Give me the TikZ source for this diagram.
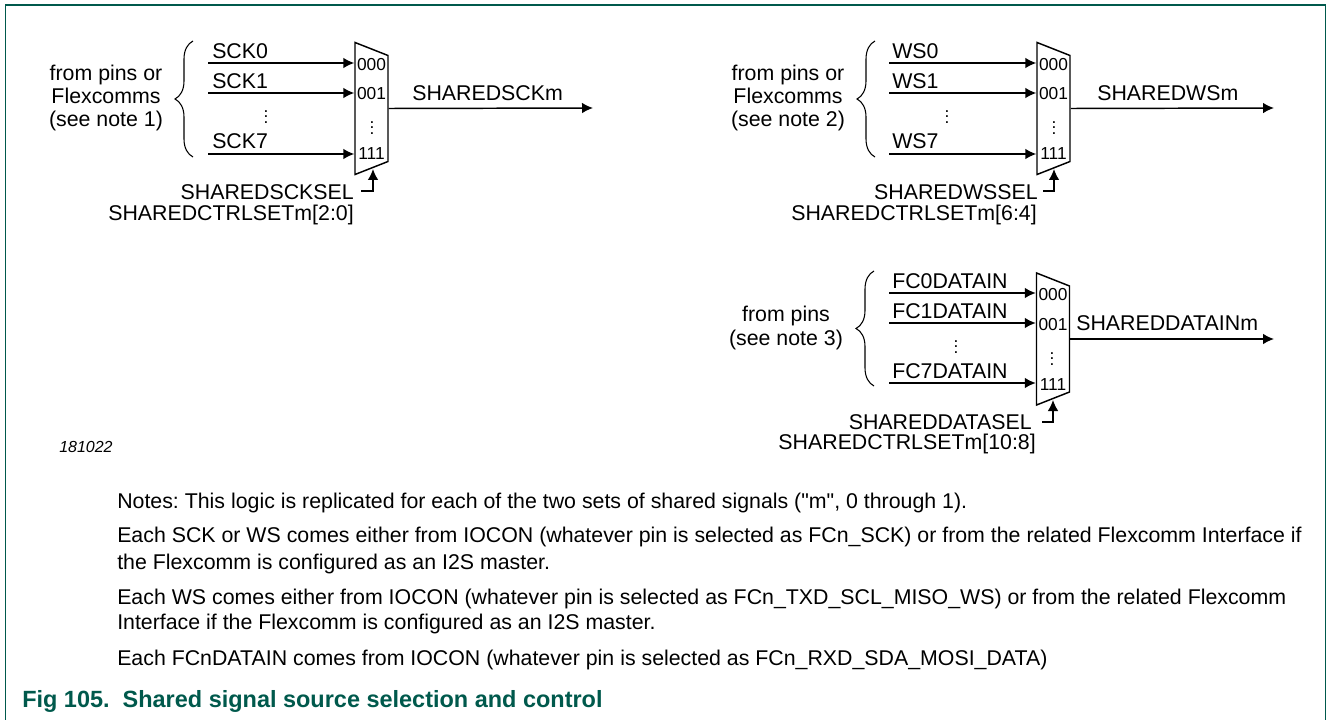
\documentclass[tikz,border=0pt]{standalone}
\usepackage{fontspec}
\setmainfont{Liberation Sans}[Ligatures=TeXOff]
\usetikzlibrary{arrows.meta, positioning, shapes.geometric, decorations.pathreplacing}
\definecolor{figgreen}{HTML}{00594C}

\begin{document}
\begin{tikzpicture}[
        x=0.75pt, y=-0.75pt,
        every node/.style={font=\fontsize{16pt}{17.6pt}\selectfont\frenchspacing, inner sep=0pt},
        mux/.style={trapezium, trapezium left angle=83, trapezium right angle=83, trapezium stretches=true, shape border rotate=270, draw, inner sep=1pt, line width=1.1pt, minimum width=99pt, minimum height=24.75pt},
        port/.style={font=\fontsize{13pt}{15pt}\selectfont},
        side/.style={align=center},
        note/.style={anchor=west},
        arrow/.style={-{Latex[length=8.25pt, width=8pt]}, line width=1.1pt},
        bracket/.style={line width=0.8pt, decorate, decoration={brace, mirror, amplitude=13.5pt}}
    ]
        \useasboundingbox (0,0) rectangle (1327,720);

        % Frame
        \coordinate (framebl) at (5.5,720);
        \coordinate (frametl) at (5.5,5);
        \coordinate (frametr) at (1325.5,5);
        \coordinate (framebr) at (1325.5,720);
        \draw[figgreen, line width=1.1pt] (framebl) -- (frametl) -- (frametr) -- (framebr);

        % Nodes: SCK selector
        \node[mux] (muxsck) at (371.5,108.5) {};
        \node[port] (sck000) at (371.5,65) {000};
        \node[port] (sck001) at (371.5,94) {001};
        \node[port] (sckdots) at (372,124) {\(\vdots\)};
        \node[port] (sck111) at (371.5,154) {111};
        \node (sck0) [anchor=west] at (212,51) {SCK0};
        \node (sck1) [anchor=west] at (212,81) {SCK1};
        \node (sck7) [anchor=west] at (212,141) {SCK7};
        \node[port] (sckgap) at (266,113) {\(\vdots\)};
        \node[side] (sckfrom) at (106,98) {from pins or\\Flexcomms\\(see note 1)};
        \node (sckout) [anchor=west] at (412,93) {SHAREDSCKm};
        \node (scksel) [anchor=east] at (354,192) {SHAREDSCKSEL};
        \node (sckreg) [anchor=east] at (354,215) {SHAREDCTRLSETm[2:0]};
        \coordinate (sckin0) at (208,63);
        \coordinate (sckin1) at (208,93);
        \coordinate (sckin7) at (208,154);
        \coordinate (sckend) at (593,108);
        \coordinate (scktop) at (193,41);
        \coordinate (sckbot) at (193,157);
        \coordinate (sckstub) at (361,191);
        \coordinate (scktap) at (373,169);

        % Nodes: WS selector
        \node[mux] (muxws) at (1053.5,108.5) {};
        \node[port] (ws000) at (1053.5,65) {000};
        \node[port] (ws001) at (1053.5,94) {001};
        \node[port] (wsdots) at (1054,124) {\(\vdots\)};
        \node[port] (ws111) at (1053.5,154) {111};
        \node (ws0) [anchor=west] at (892,51) {WS0};
        \node (ws1) [anchor=west] at (892,81) {WS1};
        \node (ws7) [anchor=west] at (892,141) {WS7};
        \node[port] (wsgap) at (947,113) {\(\vdots\)};
        \node[side] (wsfrom) at (788,98) {from pins or\\Flexcomms\\(see note 2)};
        \node (wsout) [anchor=west] at (1097,93) {SHAREDWSm};
        \node (wssel) [anchor=east] at (1038,192) {SHAREDWSSEL};
        \node (wsreg) [anchor=east] at (1037,215) {SHAREDCTRLSETm[6:4]};
        \coordinate (wsin0) at (889,63);
        \coordinate (wsin1) at (889,93);
        \coordinate (wsin7) at (889,154);
        \coordinate (wsend) at (1274,108);
        \coordinate (wstop) at (875,41);
        \coordinate (wsbot) at (875,157);
        \coordinate (wsstub) at (1043,191);
        \coordinate (wstap) at (1054,169);

        % Nodes: DATAIN selector
        \node[mux] (muxdata) at (1053,339) {};
        \node[port] (data000) at (1053,295) {000};
        \node[port] (data001) at (1053,325) {001};
        \node[port] (datadots) at (1052,355) {\(\vdots\)};
        \node[port] (data111) at (1053,385) {111};
        \node (data0) [anchor=west] at (892,281) {FC0DATAIN};
        \node (data1) [anchor=west] at (892,311) {FC1DATAIN};
        \node (data7) [anchor=west] at (892,371) {FC7DATAIN};
        \node[port] (datagap) at (956,343) {\(\vdots\)};
        \node[side] (datafrom) at (786,328) {from pins\\(see note 3)};
        \node (dataout) [anchor=west] at (1076,323) {SHAREDDATAINm};
        \node (datasel) [anchor=east] at (1032,422) {SHAREDDATASEL};
        \node (datareg) [anchor=east] at (1036,444) {SHAREDCTRLSETm[10:8]};
        \coordinate (datain0) at (889,293);
        \coordinate (datain1) at (889,323);
        \coordinate (datain7) at (889,383);
        \coordinate (dataend) at (1274,339);
        \coordinate (datatop) at (874,271);
        \coordinate (databot) at (874,386);
        \coordinate (datastub) at (1042,422);
        \coordinate (datatap) at (1053,400);

        % Notes and caption
        \node (stamp) [anchor=west, font=\fontsize{12pt}{14pt}\selectfont\itshape] at (59,447) {181022};
        \node[note] (note0) at (117,503) {Notes: This logic is replicated for each of the two sets of shared signals ("m", 0 through 1).};
        \node[note] (note1) at (117,537) {Each SCK or WS comes either from IOCON (whatever pin is selected as FCn\_SCK) or from the related Flexcomm Interface if};
        \node[note] (note1b) at (117,564) {the Flexcomm is configured as an I2S master.};
        \node[note] (note2) at (117,599) {Each WS comes either from IOCON (whatever pin is selected as FCn\_TXD\_SCL\_MISO\_WS) or from the related Flexcomm};
        \node[note] (note2b) at (117,624) {Interface if the Flexcomm is configured as an I2S master.};
        \node[note] (note3) at (117,660) {Each FCnDATAIN comes from IOCON (whatever pin is selected as FCn\_RXD\_SDA\_MOSI\_DATA)};
        \node (caption) [anchor=west, text=figgreen, font=\fontsize{17.6pt}{20pt}\selectfont\bfseries] at (22,701) {Fig 105.\ \ Shared signal source selection and control};

        % Arrows
        \draw[bracket] (scktop) -- (sckbot);
        \draw[arrow] (sckin0) -- (sckin0 -| muxsck.west);
        \draw[arrow] (sckin1) -- (sckin1 -| muxsck.west);
        \draw[arrow] (sckin7) -- (sckin7 -| muxsck.west);
        \draw[arrow] (muxsck.east) -- (sckend);
        \draw[arrow] (sckstub) -| (scktap);

        \draw[bracket] (wstop) -- (wsbot);
        \draw[arrow] (wsin0) -- (wsin0 -| muxws.west);
        \draw[arrow] (wsin1) -- (wsin1 -| muxws.west);
        \draw[arrow] (wsin7) -- (wsin7 -| muxws.west);
        \draw[arrow] (muxws.east) -- (wsend);
        \draw[arrow] (wsstub) -| (wstap);

        \draw[bracket] (datatop) -- (databot);
        \draw[arrow] (datain0) -- (datain0 -| muxdata.west);
        \draw[arrow] (datain1) -- (datain1 -| muxdata.west);
        \draw[arrow] (datain7) -- (datain7 -| muxdata.west);
        \draw[arrow] (muxdata.east) -- (dataend);
        \draw[arrow] (datastub) -| (datatap);
    \end{tikzpicture}
\end{document}
